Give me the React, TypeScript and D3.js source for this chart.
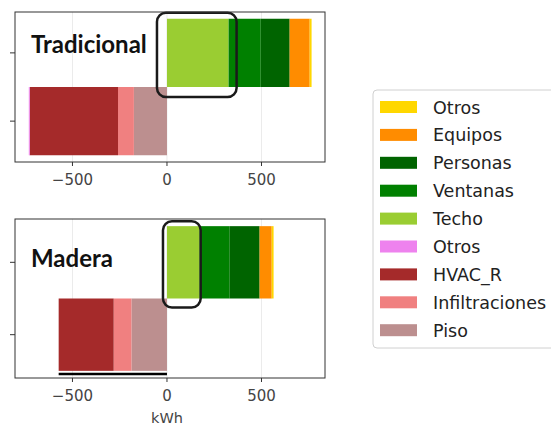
import React from 'react';
import * as d3 from 'd3';

// panels (one per construction type)
const panels = ['Tradicional', 'Madera'];

// positive contributions, stacked from 0 outward
const posNames = ['Techo', 'Ventanas', 'Personas', 'Equipos', 'Otros'];
const techo = [326, 173];
const ventanas = [170, 159];
const personas = [153, 158];
const equipos = [106, 64];
const otrosPos = [10, 10];

// negative contributions, stacked from 0 outward
const negNames = ['Piso', 'Infiltraciones', 'HVAC_R', 'Otros'];
const piso = [-175, -188];
const infiltraciones = [-84, -94];
const hvacR = [-467, -291];
const otrosNeg = [-5, 0];

const xTicks = [-500, 0, 500];

const legendNames = ['Otros', 'Equipos', 'Personas', 'Ventanas', 'Techo', 'Otros', 'HVAC_R', 'Infiltraciones', 'Piso'];
const legendColors = ['#FFD700', '#FF8C00', '#006400', '#008000', '#9ACD32', '#EE82EE', '#A52A2A', '#F08080', '#BC8F8F'];

const posColors = ['#9ACD32', '#008000', '#006400', '#FF8C00', '#FFD700'];
const negColors = ['#BC8F8F', '#F08080', '#A52A2A', '#EE82EE'];

const W = 551;
const H = 428;
const frameL = 15;
const frameR = 325;
const panelBoxes = [
  { top: 12, bottom: 162 },
  { top: 219, bottom: 378 },
];
// highlight box paddings around the Techo bar [left, right, top, bottom]
const highlightPad = [
  [10, 8, 6, 10],
  [4, 1, 5, 9],
];
const labelBaseline = [53, 267];

const x = d3.scaleLinear().domain([-804, 836]).range([frameL, frameR]);

function Panel({ i }: { i: number }) {
  const { top, bottom } = panelBoxes[i];
  const h = bottom - top;
  const y = d3.scaleBand<string>()
    .domain(['pos', 'neg'])
    .range([top + h * 0.045, bottom - h * 0.045])
    .paddingInner(0);

  const posVals = [techo[i], ventanas[i], personas[i], equipos[i], otrosPos[i]];
  const negVals = [piso[i], infiltraciones[i], hvacR[i], otrosNeg[i]];

  const stackSegs = (vals: number[]) => {
    let acc = 0;
    return vals.map(v => {
      const s = { a: acc, b: acc + v };
      acc += v;
      return s;
    });
  };
  const posSegs = stackSegs(posVals);
  const negSegs = stackSegs(negVals);
  const pad = highlightPad[i];
  const negTotal = negVals.reduce((s, v) => s + v, 0) - negVals[3];

  return (
    <g>
      {xTicks.map(t => (
        <line key={t} x1={x(t)} x2={x(t)} y1={top} y2={bottom} stroke="#ebebeb" strokeWidth={1} />
      ))}
      {posSegs.map((s, k) => (
        <rect key={'p' + k} x={x(s.a)} y={y('pos')} width={Math.max(0, x(s.b) - x(s.a))}
          height={y.bandwidth()} fill={posColors[k]} />
      ))}
      {negSegs.map((s, k) => (
        <rect key={'n' + k} x={x(s.b)} y={y('neg')} width={Math.max(0, x(s.a) - x(s.b))}
          height={y.bandwidth()} fill={negColors[k]} />
      ))}
      <rect x={x(0) - pad[0]} y={y('pos')! - pad[2]}
        width={x(techo[i]) - x(0) + pad[0] + pad[1]} height={y.bandwidth() + pad[2] + pad[3]}
        rx={9} fill="none" stroke="#1a1a1a" strokeWidth={2.5} />
      {i === 1 && (
        <line x1={x(negTotal)} x2={x(0)} y1={bottom - 4} y2={bottom - 4} stroke="#000" strokeWidth={2.5} />
      )}
      <rect x={frameL} y={top} width={frameR - frameL} height={h} fill="none" stroke="#333" strokeWidth={1} />
      {['pos', 'neg'].map(k => (
        <line key={k} x1={frameL - 5} x2={frameL} y1={y(k)! + y.bandwidth() / 2} y2={y(k)! + y.bandwidth() / 2}
          stroke="#333" strokeWidth={1} />
      ))}
      {xTicks.map(t => (
        <g key={'t' + t}>
          <line x1={x(t)} x2={x(t)} y1={bottom} y2={bottom + 4} stroke="#333" strokeWidth={1} />
          <text x={x(t)} y={bottom + 23} textAnchor="middle" fontFamily="DejaVu Sans" fontSize={15} fill="#444">
            {t < 0 ? '\u2212' + Math.abs(t) : t}
          </text>
        </g>
      ))}
      <text x={31} y={labelBaseline[i]} fontFamily="Lato" fontWeight={700} fontSize={24} fill="#111">
        {panels[i]}
      </text>
    </g>
  );
}

export default function App() {
  return (
    <svg width={W} height={H} style={{ position: 'absolute', left: 0, top: 0, background: '#fff' }}>
      <rect width={W} height={H} fill="#fff" />
      {panels.map((p, i) => <Panel key={p} i={i} />)}
      <text x={x(0)} y={423} textAnchor="middle" fontFamily="DejaVu Sans" fontSize={14.5} fill="#444">kWh</text>
      <rect x={373} y={90} width={200} height={258} rx={4} fill="#fff" stroke="#d0d0d0" strokeWidth={1} />
      {legendNames.map((n, k) => (
        <g key={k}>
          <rect x={380} y={107 + k * 27.9 - 6} width={37} height={12} fill={legendColors[k]} />
          <text x={433} y={107 + k * 27.9 + 6.5} fontFamily="DejaVu Sans" fontSize={17.5} fill="#222">{n}</text>
        </g>
      ))}
    </svg>
  );
}
